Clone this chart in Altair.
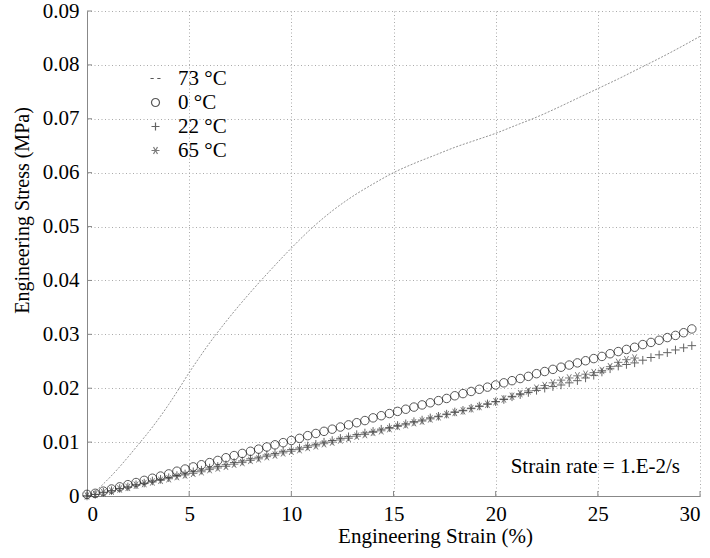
import altair as alt
import pandas as pd

# ---------------- data ----------------
S73_X = [0, 0.5, 1, 1.5, 2, 2.5, 3, 3.5, 4, 4.5, 5, 5.5, 6, 6.5, 7, 7.5, 8, 9, 10,
         11, 12, 13, 14, 15, 16, 17, 18, 19, 20, 21, 22, 23, 24, 25, 26, 27, 28, 29, 30]
S73_Y = [0.0, 0.0012, 0.0030, 0.0050, 0.0072, 0.0095, 0.0118, 0.0143, 0.0170, 0.0199,
         0.0229, 0.0257, 0.0284, 0.0309, 0.0333, 0.0356, 0.0378, 0.0420, 0.0460,
         0.0497, 0.0529, 0.0556, 0.0579, 0.0600, 0.0617, 0.0632, 0.0647, 0.0660, 0.0673,
         0.0688, 0.0703, 0.0720, 0.0738, 0.0756, 0.0774, 0.0793, 0.0812, 0.0832, 0.0853]

STRAIN = [0.0, 0.4, 0.8, 1.2, 1.6, 2.0, 2.4, 2.8, 3.2, 3.6, 4.0, 4.4, 4.8, 5.2, 5.6,
          6.0, 6.4, 6.8, 7.2, 7.6, 8.0, 8.4, 8.8, 9.2, 9.6, 10.0, 10.4, 10.8, 11.2, 11.6,
          12.0, 12.4, 12.8, 13.2, 13.6, 14.0, 14.4, 14.8, 15.2, 15.6, 16.0, 16.4, 16.8,
          17.2, 17.6, 18.0, 18.4, 18.8, 19.2, 19.6, 20.0, 20.4, 20.8, 21.2, 21.6, 22.0,
          22.4, 22.8, 23.2, 23.6, 24.0, 24.4, 24.8, 25.2, 25.6, 26.0, 26.4, 26.8, 27.2,
          27.6, 28.0, 28.4, 28.8, 29.2, 29.6]

S0_Y = [0.0003, 0.0005, 0.0009, 0.0013, 0.0017, 0.0021, 0.0025, 0.0029, 0.0033, 0.0037,
        0.0041, 0.0046, 0.0050, 0.0054, 0.0058, 0.0062, 0.0066, 0.0071, 0.0075, 0.0079,
        0.0083, 0.0087, 0.0091, 0.0095, 0.0099, 0.0103, 0.0107, 0.0112, 0.0116, 0.0120,
        0.0124, 0.0128, 0.0132, 0.0136, 0.0140, 0.0145, 0.0149, 0.0153, 0.0157, 0.0161,
        0.0165, 0.0169, 0.0173, 0.0177, 0.0181, 0.0186, 0.0190, 0.0194, 0.0198, 0.0202,
        0.0206, 0.0210, 0.0214, 0.0218, 0.0222, 0.0227, 0.0231, 0.0235, 0.0239, 0.0243,
        0.0247, 0.0251, 0.0255, 0.0259, 0.0264, 0.0268, 0.0272, 0.0276, 0.0281, 0.0285,
        0.0289, 0.0294, 0.0298, 0.0303, 0.0310]

S22_Y = [0.0000, 0.0003, 0.0007, 0.0010, 0.0014, 0.0017, 0.0021, 0.0024, 0.0028, 0.0031,
         0.0034, 0.0038, 0.0041, 0.0045, 0.0048, 0.0052, 0.0055, 0.0058, 0.0062, 0.0065,
         0.0069, 0.0072, 0.0076, 0.0079, 0.0083, 0.0086, 0.0089, 0.0093, 0.0096, 0.0100,
         0.0103, 0.0107, 0.0110, 0.0114, 0.0117, 0.0120, 0.0124, 0.0127, 0.0131, 0.0134,
         0.0138, 0.0141, 0.0145, 0.0148, 0.0152, 0.0156, 0.0159, 0.0163, 0.0167, 0.0171,
         0.0175, 0.0179, 0.0184, 0.0188, 0.0192, 0.0196, 0.0200, 0.0203, 0.0206, 0.0210,
         0.0214, 0.0219, 0.0224, 0.0230, 0.0236, 0.0241, 0.0244, 0.0247, 0.0252, 0.0257,
         0.0262, 0.0266, 0.0271, 0.0275, 0.0279]

S65_Y = [0.0000, 0.0003, 0.0006, 0.0009, 0.0013, 0.0016, 0.0020, 0.0023, 0.0026, 0.0029,
         0.0032, 0.0036, 0.0039, 0.0042, 0.0045, 0.0049, 0.0052, 0.0055, 0.0059, 0.0062,
         0.0066, 0.0069, 0.0073, 0.0076, 0.0080, 0.0083, 0.0086, 0.0090, 0.0093, 0.0097,
         0.0100, 0.0104, 0.0107, 0.0111, 0.0114, 0.0118, 0.0121, 0.0125, 0.0129, 0.0132,
         0.0136, 0.0139, 0.0143, 0.0147, 0.0151, 0.0155, 0.0158, 0.0162, 0.0166, 0.0170,
         0.0175, 0.0180, 0.0185, 0.0190, 0.0195, 0.0200, 0.0205, 0.0210, 0.0215, 0.0219,
         0.0223, 0.0226, 0.0229, 0.0233, 0.0240, 0.0248, 0.0253, 0.0256]

SERIES = ["73 °C", "0 °C", "22 °C", "65 °C"]
X_TICKS = [0, 5, 10, 15, 20, 25, 30]
Y_TICKS = [0, 0.01, 0.02, 0.03, 0.04, 0.05, 0.06, 0.07, 0.08, 0.09]

# ---------------- tables ----------------
line_df = pd.DataFrame({"strain": S73_X, "stress": S73_Y, "series": SERIES[0]})
pts = []
for name, ys in [(SERIES[1], S0_Y), (SERIES[2], S22_Y), (SERIES[3], S65_Y)]:
    for x, y in zip(STRAIN, ys):
        pts.append({"strain": x, "stress": y, "series": name})
pts_df = pd.DataFrame(pts)

W, H = 613, 485
FONT = "Liberation Serif"

xs = alt.Scale(domain=[0, 30], nice=False, zero=False)
ys = alt.Scale(domain=[0, 0.09], nice=False, zero=False)

DASH = "M-1.25,0L-0.45,0M0.45,0L1.25,0"
PLUS = "M-1,0L1,0M0,-1L0,1"
STAR = "M-1,0L1,0M-0.5,-0.866L0.5,0.866M-0.5,0.866L0.5,-0.866"

line = alt.Chart(line_df).mark_line(
    color="#888888", strokeWidth=0.9, strokeDash=[2, 1.5], interpolate="monotone"
).encode(
    x=alt.X("strain:Q", scale=xs,
            axis=alt.Axis(title="Engineering Strain (%)", values=X_TICKS, titleX=348)),
    y=alt.Y("stress:Q", scale=ys,
            axis=alt.Axis(title="Engineering Stress (MPa)", values=Y_TICKS, titleY=199,
                          labelExpr="datum.value == 0 ? '0' : format(datum.value, '.2f')")),
)

leg = alt.Legend(title=None, orient="none", legendX=58, legendY=57)
points = alt.Chart(pts_df).mark_point(filled=False, strokeWidth=1, size=72).encode(
    x=alt.X("strain:Q", scale=xs),
    y=alt.Y("stress:Q", scale=ys),
    shape=alt.Shape("series:N",
                    scale=alt.Scale(domain=SERIES, range=[DASH, "circle", PLUS, STAR]),
                    legend=leg),
    color=alt.Color("series:N",
                    scale=alt.Scale(domain=SERIES,
                                    range=["#111111", "#111111", "#222222", "#444444"]),
                    legend=leg),
)

tick_x_df = pd.DataFrame({"v": X_TICKS})
tick_y_df = pd.DataFrame({"v": Y_TICKS})
xticks = alt.Chart(tick_x_df).mark_rule(color="#888888", strokeWidth=1).encode(
    x=alt.X("v:Q", scale=xs), y=alt.value(H), y2=alt.value(H - 5))
yticks = alt.Chart(tick_y_df).mark_rule(color="#888888", strokeWidth=1).encode(
    y=alt.Y("v:Q", scale=ys), x=alt.value(0), x2=alt.value(5))

note = alt.Chart(pd.DataFrame({"t": ["Strain rate = 1.E-2/s"]})).mark_text(
    font=FONT, fontSize=21, align="right", baseline="middle", color="black"
).encode(x=alt.value(593), y=alt.value(456), text="t:N")

chart = alt.layer(line, xticks, yticks, points, note).properties(
    width=W, height=H,
    autosize=alt.AutoSizeParams(type="none"),
    padding={"left": 87, "top": 11, "right": 10, "bottom": 62},
    background="white",
).configure_view(stroke=None).configure_axis(
    labelFont=FONT, titleFont=FONT, labelFontSize=21,
    labelColor="black", titleColor="black", titleFontWeight="normal",
    ticks=False, domainColor="#888888", domainWidth=1,
    gridColor="#aaaaaa", gridDash=[1, 2.5], gridWidth=1,
).configure_axisX(labelPadding=7, titlePadding=1, titleFontSize=21).configure_axisY(
    labelPadding=8, titlePadding=10, titleFontSize=20
).configure_legend(
    labelFont=FONT, labelFontSize=21, labelColor="black", symbolSize=64,
    symbolStrokeWidth=1.2, rowPadding=2, labelOffset=12, symbolType="circle",
)

chart.save("out.html", embed_options={"renderer": "svg", "actions": False})
